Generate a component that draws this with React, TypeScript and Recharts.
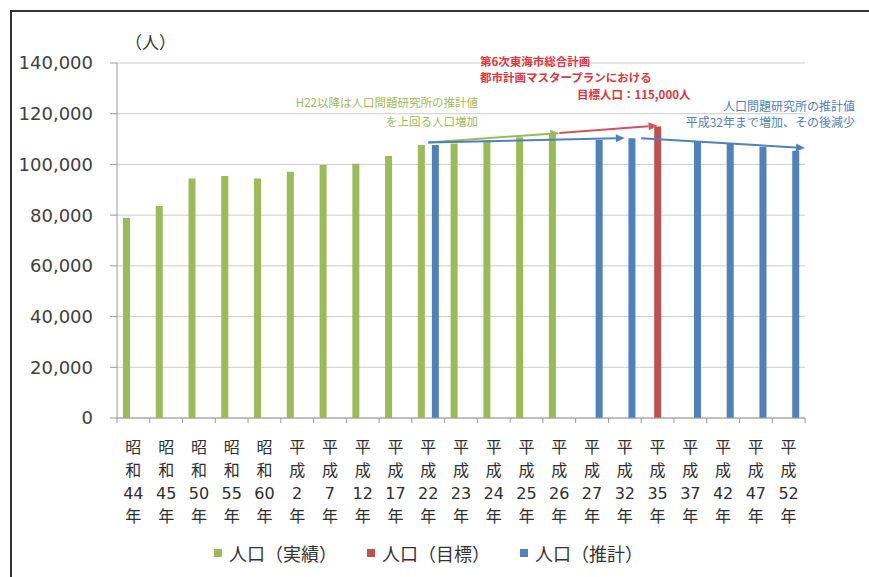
import React from 'react';
import {
  BarChart, Bar, XAxis, YAxis, CartesianGrid, Legend, ReferenceLine, Customized
} from 'recharts';

// 年次（和暦）
const years = [
  '昭和44年', '昭和45年', '昭和50年', '昭和55年', '昭和60年',
  '平成2年', '平成7年', '平成12年', '平成17年', '平成22年',
  '平成23年', '平成24年', '平成25年', '平成26年', '平成27年',
  '平成32年', '平成35年', '平成37年', '平成42年', '平成47年', '平成52年',
];

// 人口（実績）
const actual = [
  79000, 83600, 94500, 95400, 94500,
  97100, 99800, 100300, 103300, 107700,
  108300, 109600, 110700, 112300, null,
  null, null, null, null, null, null,
];

// 人口（目標）
const target = [
  null, null, null, null, null,
  null, null, null, null, null,
  null, null, null, null, null,
  null, 115000, null, null, null, null,
];

// 人口（推計）
const estimate = [
  null, null, null, null, null,
  null, null, null, null, 107700,
  null, null, null, null, 109600,
  110300, null, 109000, 108300, 107000, 105400,
];

const seriesNames = ['人口（実績）', '人口（目標）', '人口（推計）'];

const yTicks = [0, 20000, 40000, 60000, 80000, 100000, 120000, 140000];

const GREEN = '#9bbb59';
const RED = '#c0504d';
const BLUE = '#4f81bd';
const AXIS = '#9a9a9a';
const TEXT = '#404040';
const FONT = "'DejaVu Sans', 'Noto Sans CJK JP', sans-serif";
const JP = "'Noto Sans CJK JP', sans-serif";

const data = years.map((name, i) => ({
  name,
  actual: actual[i],
  target: target[i],
  estimate: estimate[i],
}));

// 縦書き風に積んだ x 軸ラベル（目盛りは区間の境目に）
const YearTick = (props: any) => {
  const { x, y, payload, index } = props;
  const label: string = payload.value;
  const m = label.match(/^(.)(.)(\d+)(年)$/);
  const rows = m ? [m[1], m[2], m[3], m[4]] : [label];
  const half = payload.offset ?? 0;
  return (
    <g>
      <line x1={x - half} y1={y} x2={x - half} y2={y + 5} stroke={AXIS} />
      {index === years.length - 1 && (
        <line x1={x + half} y1={y} x2={x + half} y2={y + 5} stroke={AXIS} />
      )}
      {rows.map((r, i) => (
        <text key={i} x={x} y={y + 35 + i * 23} textAnchor="middle"
          fontSize={16} fill="#2f2f2f" fontFamily={FONT}>{r}</text>
      ))}
    </g>
  );
};

const arrowLine = (color: string) => (props: any) => {
  const { x1, y1, x2, y2 } = props;
  const a = Math.atan2(y2 - y1, x2 - x1);
  const len = 9, w = 4;
  const bx = x2 - len * Math.cos(a), by = y2 - len * Math.sin(a);
  const p1 = `${bx + w * Math.sin(a)},${by - w * Math.cos(a)}`;
  const p2 = `${bx - w * Math.sin(a)},${by + w * Math.cos(a)}`;
  return (
    <g>
      <line x1={x1} y1={y1} x2={bx} y2={by} stroke={color} strokeWidth={2} />
      <polygon points={`${x2},${y2} ${p1} ${p2}`} fill={color} />
    </g>
  );
};

const Notes = () => (
  <g fontFamily={JP}>
    <text x={125} y={49} fontSize={17} fill="#333">（人）</text>
    <text x={478} y={107} fontSize={11.5} fill={GREEN} textAnchor="end">H22以降は人口問題研究所の推計値</text>
    <text x={478} y={126} fontSize={11.5} fill={GREEN} textAnchor="end">を上回る人口増加</text>
    <text x={480} y={66} fontSize={11.5} fill="#e0353b" fontWeight="bold">第6次東海市総合計画</text>
    <text x={480} y={82} fontSize={11.5} fill="#e0353b" fontWeight="bold">都市計画マスタープランにおける</text>
    <text x={577} y={99} fontSize={11.5} fill="#e0353b" fontWeight="bold">目標人口：115,000人</text>
    <text x={855} y={111} fontSize={12} fill={BLUE} textAnchor="end">人口問題研究所の推計値</text>
    <text x={855} y={127} fontSize={12} fill={BLUE} textAnchor="end">平成32年まで増加、その後減少</text>
  </g>
);

const LegendBox = ({ payload }: any) => {
  const items = [...(payload || [])].sort(
    (a: any, b: any) => seriesNames.indexOf(a.value) - seriesNames.indexOf(b.value)
  );
  return (
    <div style={{ display: 'flex', justifyContent: 'center', fontFamily: JP, fontSize: 18, color: '#333' }}>
      {items.map((p: any) => (
        <div key={p.value} style={{ display: 'flex', alignItems: 'center', margin: '0 15px' }}>
          <span style={{ width: 8, height: 8, background: p.color, marginRight: 7, display: 'inline-block' }} />
          <span>{p.value}</span>
        </div>
      ))}
    </div>
  );
};

const App: React.FC = () => {
  return (
    <div style={{ position: 'absolute', left: 0, top: 0, width: 869, height: 577, background: '#fff' }}>
      <div style={{
        position: 'absolute', left: 10, top: 10, width: 859, height: 567,
        borderTop: '2px solid #333', borderLeft: '2px solid #333', boxSizing: 'border-box',
      }} />
      <div style={{ position: 'absolute', left: 0, top: 0 }}>
        <BarChart width={869} height={577} data={data}
          margin={{ top: 63, right: 64, left: 0, bottom: 49 }}
          barGap={0} barSize={7}>
          <CartesianGrid vertical={false} stroke="#cccccc" />
          <XAxis dataKey="name" interval={0} height={110} tickLine={false} tickSize={0}
            tickMargin={0} stroke={AXIS} tick={<YearTick />} />
          <YAxis width={117} domain={[0, 140000]} ticks={yTicks} stroke={AXIS}
            tickSize={7} tickMargin={17}
            tick={{ fill: TEXT, fontSize: 18, fontFamily: FONT }}
            tickFormatter={(v: number) => v.toLocaleString('en-US')} />
          <Bar dataKey="actual" name={seriesNames[0]} fill={GREEN} isAnimationActive={false} />
          <Bar dataKey="target" name={seriesNames[1]} fill={RED} isAnimationActive={false} />
          <Bar dataKey="estimate" name={seriesNames[2]} fill={BLUE} isAnimationActive={false} />
          <ReferenceLine ifOverflow="visible" segment={[{ x: '平成22年', y: 108600 }, { x: '平成26年', y: 112400 }]}
            shape={arrowLine(GREEN)} />
          <ReferenceLine ifOverflow="visible" segment={[{ x: '平成26年', y: 112400 }, { x: '平成35年', y: 115300 }]}
            shape={arrowLine('#d0555a')} />
          <ReferenceLine ifOverflow="visible" segment={[{ x: '平成22年', y: 108600 }, { x: '平成32年', y: 110400 }]}
            shape={arrowLine(BLUE)} />
          <ReferenceLine ifOverflow="visible" position="end"
            segment={[{ x: '平成32年', y: 110300 }, { x: '平成52年', y: 106500 }]}
            shape={arrowLine(BLUE)} />
          <Legend layout="horizontal" verticalAlign="middle" align="center"
            wrapperStyle={{ top: 540, left: 0, width: 857 }} content={<LegendBox />} />
          <Customized component={Notes} />
        </BarChart>
      </div>
    </div>
  );
};

export default App;
